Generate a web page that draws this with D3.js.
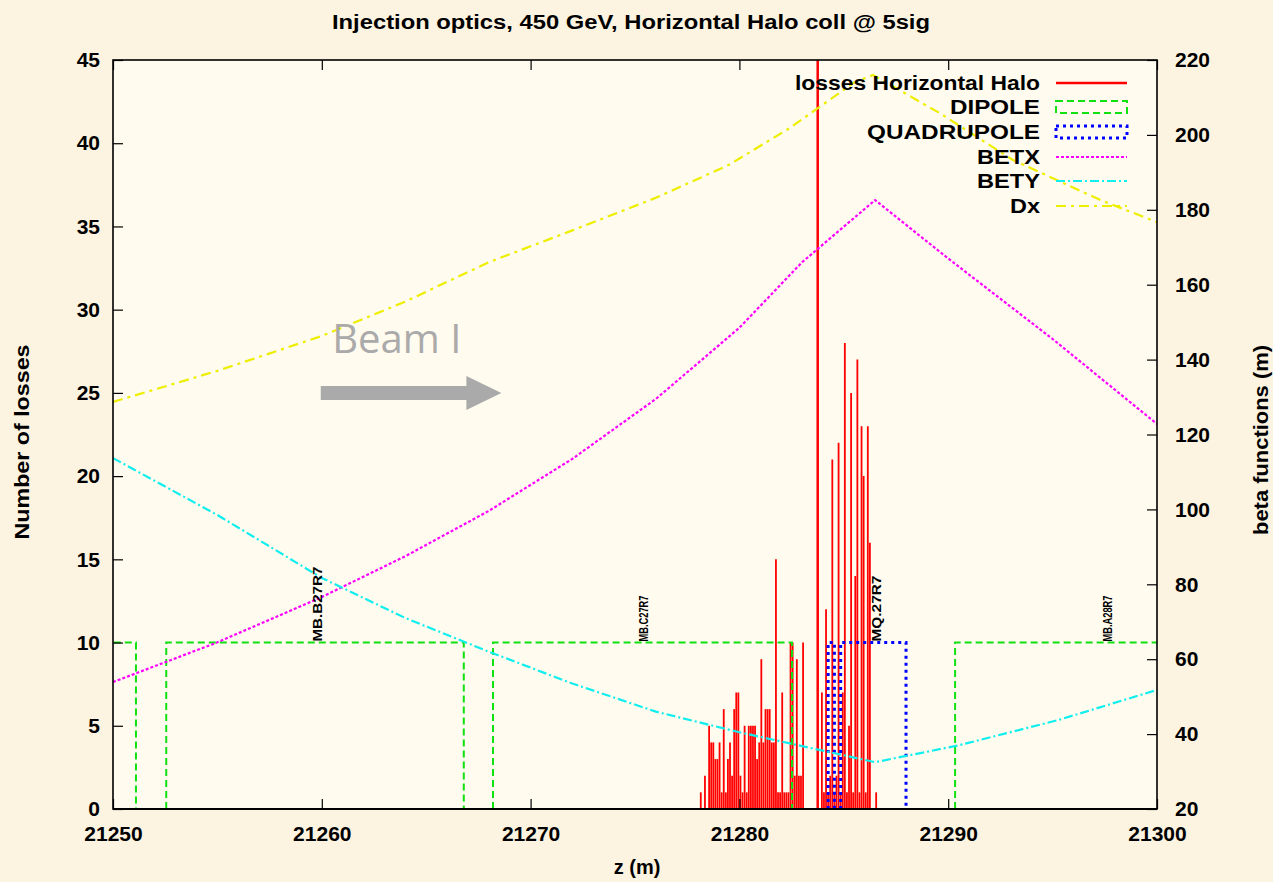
<!DOCTYPE html>
<html lang="en">
<head>
<meta charset="UTF-8">
<title>Injection optics, 450 GeV, Horizontal Halo coll @ 5sig</title>
<script src="https://cdn.jsdelivr.net/npm/d3@7"></script>
<style>
  body { margin: 0; background: #fcf4e1; }
  svg { display: block; font-family: "Liberation Sans", Arial, sans-serif; font-weight: bold; }
  .axis text { font-size: 21px; fill: #000; }
  .axis line { stroke: #000; stroke-width: 1.2; }
</style>
</head>
<body>
<svg id="chart" width="1273" height="882"></svg>
<script>
// losses per 0.1 m bin (left axis)
const lossZ = [21278.15, 21278.35, 21278.55, 21278.65, 21278.75, 21278.85, 21278.95, 21279.05, 21279.15, 21279.25,
  21279.35, 21279.45, 21279.55, 21279.65, 21279.75, 21279.85, 21279.95, 21280.05, 21280.15, 21280.25,
  21280.35, 21280.45, 21280.55, 21280.65, 21280.75, 21280.85, 21280.95, 21281.05, 21281.15, 21281.25,
  21281.35, 21281.45, 21281.55, 21281.65, 21281.75, 21281.85, 21281.95, 21282.05, 21282.15, 21282.25,
  21282.35, 21282.45, 21282.55, 21282.65, 21282.75, 21282.85, 21282.95, 21283.05,
  21283.75, 21283.95, 21284.05, 21284.15, 21284.25, 21284.35, 21284.45, 21284.55, 21284.65, 21284.75,
  21284.85, 21284.95, 21285.05, 21285.15, 21285.25, 21285.35, 21285.45, 21285.55, 21285.65, 21285.75,
  21285.85, 21285.95, 21286.05, 21286.15, 21286.25, 21286.55];
const lossN = [1, 2, 5, 4, 4, 3, 3, 4, 1, 6,
  1, 3, 4, 2, 6, 7, 7, 2, 1, 5,
  1, 5, 5, 5, 5, 3, 4, 9, 4, 6,
  6, 6, 4, 4, 15, 1, 1, 7, 1, 1,
  1, 10, 10, 2, 9, 2, 2, 10,
  60, 7, 1, 12, 1, 2, 21, 1, 2, 22,
  1, 7, 28, 1, 5, 25, 1, 14, 27, 1,
  23, 20, 1, 23, 16, 1];

// magnet outlines, drawn at height 10 (left axis)
const dipoles = [[21248, 21251.1], [21252.55, 21266.8], [21268.2, 21282.52], [21290.33, 21305]];
const quads = [[21284.25, 21284.55], [21284.85, 21287.98]];
const magnetNames = ["MB.B27R7", "MB.C27R7", "MQ.27R7", "MB.A28R7"];
const magnetZ = [21259.8, 21275.45, 21286.6, 21297.65];

// optics functions (right axis)
const betxZ = [21250, 21255, 21260, 21264, 21268, 21272, 21276, 21280, 21283, 21286.5, 21290, 21295, 21300];
const betxV = [53.9, 64.5, 76.6, 87.5, 99.6, 113.5, 129.5, 148.5, 166, 182.6, 167, 145.5, 122.8];
const betyZ = [21250, 21255, 21260, 21264, 21268, 21272, 21276, 21280, 21283, 21286.5, 21290.5, 21295.3, 21300];
const betyV = [113.7, 98.5, 81.7, 71, 62, 53.5, 46, 40.5, 36.8, 32.5, 37, 43.8, 51.8];
const dxZ = [21250, 21255, 21260, 21264, 21268, 21272, 21276, 21279.5, 21282.4, 21285.5, 21286.4, 21289.6, 21293.1, 21297.3, 21300];
const dxV = [128.7, 137, 146.3, 155.5, 166, 174.5, 183.2, 192, 201.8, 214, 216, 205.8, 193.3, 182.6, 176.7];

const zTicks = [21250, 21260, 21270, 21280, 21290, 21300];
const lossTicks = [0, 5, 10, 15, 20, 25, 30, 35, 40, 45];
const betaTicks = [20, 40, 60, 80, 100, 120, 140, 160, 180, 200, 220];

const legendNames = ["losses Horizontal Halo", "DIPOLE", "QUADRUPOLE", "BETX", "BETY", "Dx"];
const legendWidths = [245, 90, 173, 63, 63, 30];

const L = 113, R = 1157, T = 60, B = 809;
const x = d3.scaleLinear().domain([21250, 21300]).range([L, R]);
const yL = d3.scaleLinear().domain([0, 45]).range([B, T]);
const yR = d3.scaleLinear().domain([20, 220]).range([B, T]);

const svg = d3.select("#chart");
svg.append("rect").attr("width", 1273).attr("height", 882).attr("fill", "#fcf4e1");
svg.append("rect").attr("x", L).attr("y", T).attr("width", R - L).attr("height", B - T).attr("fill", "#fffbee");

svg.append("defs").append("clipPath").attr("id", "clip")
  .append("rect").attr("x", L).attr("y", T).attr("width", R - L).attr("height", B - T);
const plot = svg.append("g").attr("clip-path", "url(#clip)");

// losses as impulses
plot.selectAll(".loss").data(lossZ).join("line")
  .attr("x1", d => x(d)).attr("x2", d => x(d))
  .attr("y1", yL(0)).attr("y2", (d, i) => yL(lossN[i]))
  .attr("stroke", "#ff0000").attr("stroke-width", (d, i) => lossN[i] > 45 ? 2.5 : 1.8);

function box(s) {
  return `M${x(s[0])},${yL(0)}V${yL(10)}H${x(s[1])}V${yL(0)}`;
}
plot.selectAll(".dip").data(dipoles).join("path")
  .attr("d", box).attr("fill", "none").attr("stroke", "#11e011")
  .attr("stroke-width", 2).attr("stroke-dasharray", "7,4");
plot.selectAll(".quad").data(quads).join("path")
  .attr("d", box).attr("fill", "none").attr("stroke", "#0000ff")
  .attr("stroke-width", 3).attr("stroke-dasharray", "3,4");

const line = d3.line().x(d => x(d[0])).y(d => yR(d[1]));
const optics = [
  { z: betxZ, v: betxV, color: "#ff00ff", dash: "3,2" },
  { z: betyZ, v: betyV, color: "#11eeee", dash: "9,3,2,3" },
  { z: dxZ, v: dxV, color: "#eeee00", dash: "10,5,3,5" }
];
optics.forEach(o => {
  plot.append("path").attr("d", line(o.z.map((z, i) => [z, o.v[i]])))
    .attr("fill", "none").attr("stroke", o.color).attr("stroke-width", 2.2)
    .attr("stroke-dasharray", o.dash);
});

// magnet names
const magLen = [75, 46, 66, 46];
svg.selectAll(".mag").data(magnetNames).join("text")
  .attr("transform", (d, i) => `translate(${x(magnetZ[i]) + 4},${yL(10) - 1}) rotate(-90)`)
  .attr("font-size", 12).attr("textLength", (d, i) => magLen[i]).attr("lengthAdjust", "spacingAndGlyphs")
  .text(d => d);

// axes (ticks inward)
const noDomain = g => g.select(".domain").remove();
svg.append("g").attr("class", "axis").attr("transform", `translate(0,${B})`)
  .call(d3.axisBottom(x).tickValues(zTicks).tickFormat(d3.format("d")).tickSize(-10).tickPadding(17)).call(noDomain);
svg.append("g").attr("class", "axis").attr("transform", `translate(0,${T})`)
  .call(d3.axisTop(x).tickValues(zTicks).tickFormat("").tickSize(-10)).call(noDomain);
svg.append("g").attr("class", "axis").attr("transform", `translate(${L},0)`)
  .call(d3.axisLeft(yL).tickValues(lossTicks).tickSize(-10).tickPadding(13)).call(noDomain);
svg.append("g").attr("class", "axis").attr("transform", `translate(${R},0)`)
  .call(d3.axisRight(yR).tickValues(betaTicks).tickSize(-10).tickPadding(18)).call(noDomain);

svg.append("rect").attr("x", L).attr("y", T).attr("width", R - L).attr("height", B - T)
  .attr("fill", "none").attr("stroke", "#000").attr("stroke-width", 1.6);
svg.append("line").attr("x1", L).attr("x2", R).attr("y1", B).attr("y2", B)
  .attr("stroke", "#000").attr("stroke-width", 2.2);

// titles
function label(txt, px, py, size, len, rot) {
  const t = svg.append("text").attr("font-size", size).attr("text-anchor", "middle")
    .attr("transform", `translate(${px},${py})` + (rot ? ` rotate(${rot})` : ""))
    .text(txt);
  if (len) t.attr("textLength", len).attr("lengthAdjust", "spacingAndGlyphs");
  return t;
}
label("Injection optics, 450 GeV, Horizontal Halo coll @ 5sig", 631, 29, 20, 598);
label("z (m)", 637, 874, 20);
label("Number of losses", 29, 442, 20, 195, -90);
label("beta functions (m)", 1268, 440, 20, 190, -90);

// legend
const legY = [83, 107, 132, 157, 181, 206];
legendNames.forEach((n, i) => {
  svg.append("text").attr("x", 1040).attr("y", legY[i] + 7).attr("text-anchor", "end")
    .attr("font-size", 21).attr("textLength", legendWidths[i]).attr("lengthAdjust", "spacingAndGlyphs").text(n);
});
const lx1 = 1056, lx2 = 1127;
svg.append("line").attr("x1", lx1).attr("x2", lx2).attr("y1", legY[0]).attr("y2", legY[0])
  .attr("stroke", "#ff0000").attr("stroke-width", 2.5);
svg.append("rect").attr("x", lx1).attr("y", legY[1] - 6).attr("width", lx2 - lx1).attr("height", 12)
  .attr("fill", "none").attr("stroke", "#11e011").attr("stroke-width", 2).attr("stroke-dasharray", "7,4");
svg.append("rect").attr("x", lx1).attr("y", legY[2] - 6).attr("width", lx2 - lx1).attr("height", 12)
  .attr("fill", "none").attr("stroke", "#0000ff").attr("stroke-width", 3).attr("stroke-dasharray", "3,4");
optics.forEach((o, i) => {
  svg.append("line").attr("x1", lx1).attr("x2", lx2).attr("y1", legY[3 + i]).attr("y2", legY[3 + i])
    .attr("stroke", o.color).attr("stroke-width", 2.2).attr("stroke-dasharray", o.dash);
});

// beam direction annotation
svg.append("text").attr("x", x(21260.5)).attr("y", yL(27.4)).attr("font-family", "'Open Sans', sans-serif")
  .attr("font-weight", "normal").attr("font-size", 40).attr("fill", "#aaaaaa").text("Beam I");
const ay = yL(25), ax0 = x(21259.95), ax1 = x(21268.6), ah = ax1 - 35;
svg.append("path")
  .attr("d", `M${ax0},${ay - 7}H${ah}V${ay - 17}L${ax1},${ay}L${ah},${ay + 17}V${ay + 7}H${ax0}Z`)
  .attr("fill", "#aaaaaa");
</script>
</body>
</html>
